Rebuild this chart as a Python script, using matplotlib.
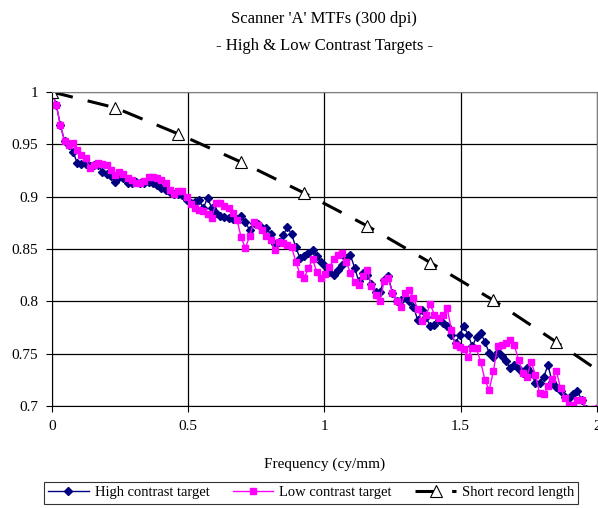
import matplotlib
matplotlib.use('Agg')
import matplotlib.pyplot as plt
import numpy as np

plt.rcParams['font.family'] = ['Liberation Serif', 'DejaVu Serif']

# frequency step of the measured MTF (cy/mm)
step = 0.01543
high = [1.000, 0.988, 0.968, 0.953, 0.949, 0.943, 0.932, 0.931, 0.931, 0.929,
        0.930, 0.930, 0.924, 0.922, 0.920, 0.914, 0.919, 0.918, 0.913, 0.913,
        0.914, 0.913, 0.913, 0.914, 0.913, 0.911, 0.908, 0.906, 0.904, 0.903,
        0.903, 0.902, 0.897, 0.894, 0.895, 0.897, 0.889, 0.899, 0.889, 0.884,
        0.882, 0.881, 0.880, 0.879, 0.879, 0.882, 0.876, 0.868, 0.875, 0.874,
        0.870, 0.870, 0.864, 0.855, 0.857, 0.863, 0.871, 0.864, 0.852, 0.841,
        0.843, 0.846, 0.849, 0.843, 0.838, 0.834, 0.828, 0.825, 0.830, 0.835,
        0.841, 0.844, 0.832, 0.819, 0.827, 0.825, 0.817, 0.809, 0.809, 0.820,
        0.824, 0.808, 0.800, 0.801, 0.804, 0.800, 0.795, 0.782, 0.792, 0.785,
        0.776, 0.777, 0.782, 0.779, 0.776, 0.768, 0.760, 0.768, 0.776, 0.768,
        0.757, 0.766, 0.770, 0.761, 0.751, 0.747, 0.752, 0.748, 0.743, 0.736,
        0.739, 0.735, 0.732, 0.736, 0.732, 0.722, 0.722, 0.728, 0.739, 0.723,
        0.718, 0.714, 0.709, 0.708, 0.711, 0.714, 0.706, 0.697, 0.693, 0.690,
        0.688]
low = [1.000, 0.988, 0.968, 0.953, 0.949, 0.951, 0.945, 0.940, 0.937, 0.927,
       0.930, 0.932, 0.931, 0.930, 0.925, 0.921, 0.924, 0.922, 0.918, 0.916,
       0.913, 0.913, 0.915, 0.919, 0.919, 0.918, 0.916, 0.913, 0.906, 0.903,
       0.905, 0.905, 0.900, 0.893, 0.889, 0.887, 0.886, 0.883, 0.880, 0.894,
       0.894, 0.891, 0.889, 0.884, 0.878, 0.861, 0.851, 0.862, 0.876, 0.873,
       0.868, 0.862, 0.859, 0.849, 0.857, 0.856, 0.854, 0.852, 0.838, 0.826,
       0.822, 0.832, 0.840, 0.828, 0.822, 0.826, 0.833, 0.840, 0.844, 0.846,
       0.838, 0.827, 0.818, 0.816, 0.824, 0.830, 0.815, 0.806, 0.800, 0.819,
       0.822, 0.808, 0.800, 0.795, 0.808, 0.811, 0.803, 0.793, 0.781, 0.787,
       0.797, 0.787, 0.784, 0.787, 0.794, 0.773, 0.758, 0.756, 0.754, 0.747,
       0.755, 0.755, 0.742, 0.725, 0.715, 0.733, 0.757, 0.758, 0.760, 0.763,
       0.758, 0.744, 0.732, 0.728, 0.742, 0.730, 0.712, 0.711, 0.719, 0.726,
       0.733, 0.717, 0.708, 0.701, 0.701, 0.706, 0.706, 0.697, 0.693, 0.697,
       0.698]
freq = np.arange(len(high)) * step

# short record length curve
short_step = 0.2315
short = [1.000, 0.985, 0.960, 0.933, 0.9035, 0.872, 0.837, 0.801, 0.761, 0.720]
short_freq = np.arange(len(short)) * short_step

fig = plt.figure(figsize=(5.98, 5.08), dpi=100)
ax = fig.add_axes([0.087, 0.2008, 0.911, 0.6181])

ax.plot(freq, high, color='#000080', lw=1, marker='D', ms=3.8,
        label='High contrast target')
ax.plot(freq, low, color='#FF00FF', lw=1, marker='s', ms=3.8,
        label='Low contrast target')
ax.plot(short_freq, short, color='black', lw=2.2, dashes=(7, 5),
        marker='^', ms=8, mfc='white', mec='black', mew=0.8,
        label='Short record length')

ax.set_xlim(0, 2)
ax.set_ylim(0.7, 1)
ax.set_xticks([0, 0.5, 1, 1.5, 2])
ax.set_xticklabels(['0', '0.5', '1', '1.5', '2'])
ax.set_yticks([0.7, 0.75, 0.8, 0.85, 0.9, 0.95, 1])
ax.set_yticklabels(['0.7', '0.75', '0.8', '0.85', '0.9', '0.95', '1'])
ax.grid(True, color='black', lw=0.9)
ax.set_axisbelow(True)
for s in ax.spines.values():
    s.set_color('#808080')
ax.spines['left'].set_color('black')
ax.spines['bottom'].set_color('black')
ax.tick_params(labelsize=11, length=4, direction='out', pad=6)

ax.set_xlabel('Frequency (cy/mm)', fontsize=11, labelpad=18)
fig.text(0.542, 0.962, "Scanner 'A' MTFs (300 dpi)", ha='center', va='center', fontsize=12)
fig.text(0.542, 0.91, "- High & Low Contrast Targets -", ha='center', va='center', fontsize=12)

leg = fig.legend(loc='center', bbox_to_anchor=(0.52, 0.03), ncol=3,
                 frameon=True, fancybox=False, edgecolor='black',
                 fontsize=10.5, handlelength=2.8, columnspacing=1.6,
                 borderpad=0.3, handletextpad=0.4)
leg.get_frame().set_linewidth(0.8)

fig.savefig('out.png', dpi=100)
